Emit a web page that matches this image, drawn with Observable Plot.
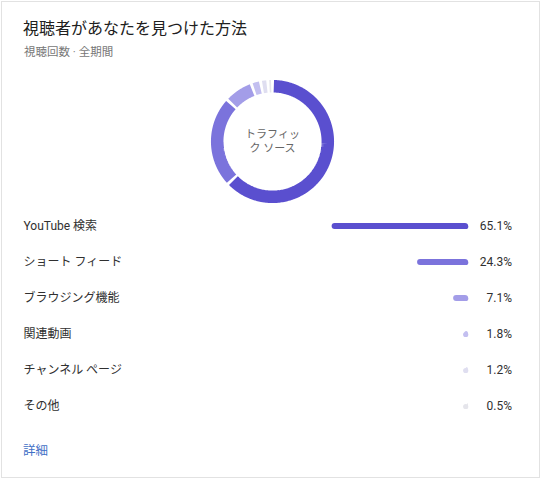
<!DOCTYPE html>
<html><head><meta charset="utf-8">
<script src="https://cdn.jsdelivr.net/npm/d3@7"></script>
<script src="https://cdn.jsdelivr.net/npm/@observablehq/plot@0.6"></script>
<style>
body{margin:0;background:#fff;font-family:Roboto,"Noto Sans CJK JP",sans-serif;width:544px;height:480px;position:relative;overflow:hidden;}
#card{position:absolute;left:1px;top:1px;width:539px;height:477px;border:1px solid #e2e2e2;box-sizing:border-box;}
#title{position:absolute;left:23px;top:19px;font-size:16px;line-height:20px;color:#202020;white-space:nowrap;}
#subtitle{position:absolute;left:24px;top:44px;font-size:11.5px;line-height:16px;color:#777;white-space:nowrap;}
#more{position:absolute;left:23px;top:442px;font-size:12.5px;line-height:18px;color:#3f70c6;}
#donut{position:absolute;left:206.5px;top:76px;}
#list{position:absolute;left:0;top:208px;}
</style></head><body>
<div id="card"></div>
<div id="title">視聴者があなたを見つけた方法</div>
<div id="subtitle">視聴回数 · 全期間</div>
<div id="donut"></div>
<div id="list"></div>
<div id="more">詳細</div>
<script>
const categories = ["YouTube 検索", "ショート フィード", "ブラウジング機能", "関連動画", "チャンネル ページ", "その他"];
const values = [65.1, 24.3, 7.1, 1.8, 1.2, 0.5];
const colors = ["#5a4fcf", "#7b73dc", "#a39de8", "#c3bff0", "#dfdef0", "#e5e5eb"];
const centerLabel = "トラフィッ\nク ソース";

const font = 'Roboto, "Noto Sans CJK JP", sans-serif';
const rows = categories.map((c, i) => ({cat: c, value: values[i]}));

// donut ring geometry from d3.pie
const R = 55.3;
const arcs = d3.pie().sort(null).padAngle(0.048)(values);
const ring = arcs.flatMap((a, i) => {
  const a0 = a.startAngle + a.padAngle / 2, a1 = a.endAngle - a.padAngle / 2;
  const n = Math.max(2, Math.ceil((a1 - a0) / 0.02) + 1);
  return d3.range(n).map(k => {
    const t = a0 + (a1 - a0) * k / (n - 1);
    return {cat: categories[i], x: R * Math.sin(t), y: R * Math.cos(t)};
  });
});

const donut = Plot.plot({
  width: 130, height: 130,
  margin: 0,
  style: {background: "none", fontFamily: font},
  x: {domain: [-65, 65], range: [0, 130], axis: null},
  y: {domain: [-65, 65], range: [130, 0], axis: null},
  color: {domain: categories, range: colors},
  marks: [
    Plot.line(ring, {x: "x", y: "y", z: "cat", stroke: "cat", strokeWidth: 12.5, strokeLinecap: "butt", strokeLinejoin: "miter"}),
    Plot.text([centerLabel], {x: () => 0, y: () => 0, text: d => d, fontSize: 11, lineHeight: 1.3, fill: "#666", dy: -1})
  ]
});
document.getElementById("donut").append(donut);

const list = Plot.plot({
  width: 544, height: 216,
  margin: 0,
  style: {background: "none", fontFamily: font},
  x: {domain: [0, 100], range: [468, 468 - 209.5], axis: null},
  y: {type: "band", domain: categories, range: [0, 216], padding: 0, axis: null},
  color: {domain: categories, range: colors},
  marks: [
    Plot.barX(rows, {x1: () => 0, x2: "value", y: "cat", fill: "cat", insetTop: 15, insetBottom: 15, rx: 3}),
    Plot.dot(rows, {x: () => 0, y: "cat", r: 2.6, fill: "cat", dx: -2.8}),
    Plot.text(rows, {y: "cat", text: "cat", frameAnchor: "left", dx: 23, textAnchor: "start", fontSize: 12, fill: "#303030"}),
    Plot.text(rows, {y: "cat", text: d => d.value.toFixed(1) + "%", frameAnchor: "right", dx: -32.5, textAnchor: "end", fontSize: 12, fill: "#303030"})
  ]
});
document.getElementById("list").append(list);
</script>
</body></html>
